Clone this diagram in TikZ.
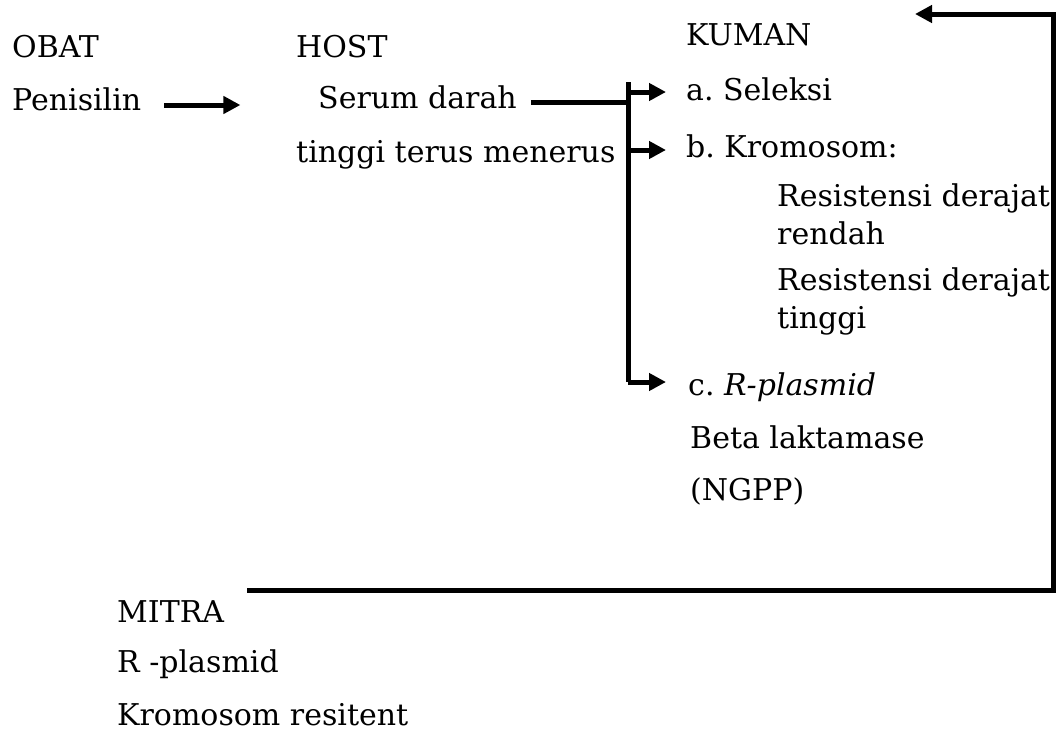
\documentclass[tikz,border=0pt]{standalone}
\usepackage{fontspec}
\setmainfont{DejaVu Serif}
\usepackage{tikz}
\usetikzlibrary{calc,arrows.meta,positioning}

\begin{document}
\begin{tikzpicture}[x=1pt,y=-1pt,
  lbl/.style={anchor=base west, inner sep=0pt, align=left,
    font=\fontsize{30}{38}\selectfont\frenchspacing},
  conn/.style={line width=5pt},
  arr/.style={conn, -{Triangle[length=17pt,width=17pt]}}]
\useasboundingbox (0,0) rectangle (1058,734);

% headings
\node[lbl] (obat)  at (12,57)  {OBAT};
\node[lbl] (host)  at (296,57) {HOST};
\node[lbl] (kuman) at (686,45) {KUMAN};

% obat and host
\node[lbl] (penisilin) at (12,110)  {Penisilin};
\node[lbl] (serum)     at (318,108) {Serum darah};
\node[lbl] (tinggi)    at (296,162) {tinggi terus menerus};

% kuman (base of a two-line node is its last line)
\node[lbl] (seleksi)   at (686,100) {a. Seleksi};
\node[lbl] (kromosom)  at (686,157) {b. Kromosom:};
\node[lbl] (resrendah) at (777,244) {Resistensi derajat\\rendah};
\node[lbl] (restinggi) at (777,328) {Resistensi derajat\\tinggi};
\node[lbl] (rplasmid)  at (688,395) {c. \textit{R-plasmid}};
\node[lbl] (beta)      at (690,448) {Beta laktamase};
\node[lbl] (ngpp)      at (690,500) {(NGPP)};

% mitra
\node[lbl] (mitra)   at (117,622) {MITRA};
\node[lbl] (rplas)   at (117,672) {R -plasmid};
\node[lbl] (kromres) at (117,725) {Kromosom resitent};

\coordinate (forktop) at (628,82);
\coordinate (forkbot) at (628,382);
\coordinate (loopcorner) at (1053,14);
\coordinate (loopend) at (915,14);

\draw[arr] ([shift={(23,-5)}]penisilin.base east) -- ++(76,0);
\draw[conn] ([shift={(14,-6)}]serum.base east) -- ($(forktop |- serum.base)+(0,-6)$);
\draw[conn] (forktop) -- (forkbot);
\draw[arr] ($(forktop |- seleksi.base)+(0,-8)$) -- ($(seleksi.base west)+(-20,-8)$);
\draw[arr] ($(forktop |- kromosom.base)+(0,-7)$) -- ($(kromosom.base west)+(-20,-7)$);
\draw[arr] (forkbot) -- ($(rplasmid.base west)+(-22,-13)$);

% back from mitra to kuman
\draw[arr] ($(mitra.base east)+(23,-32)$) -| (loopcorner) -- (loopend);
\end{tikzpicture}
\end{document}
